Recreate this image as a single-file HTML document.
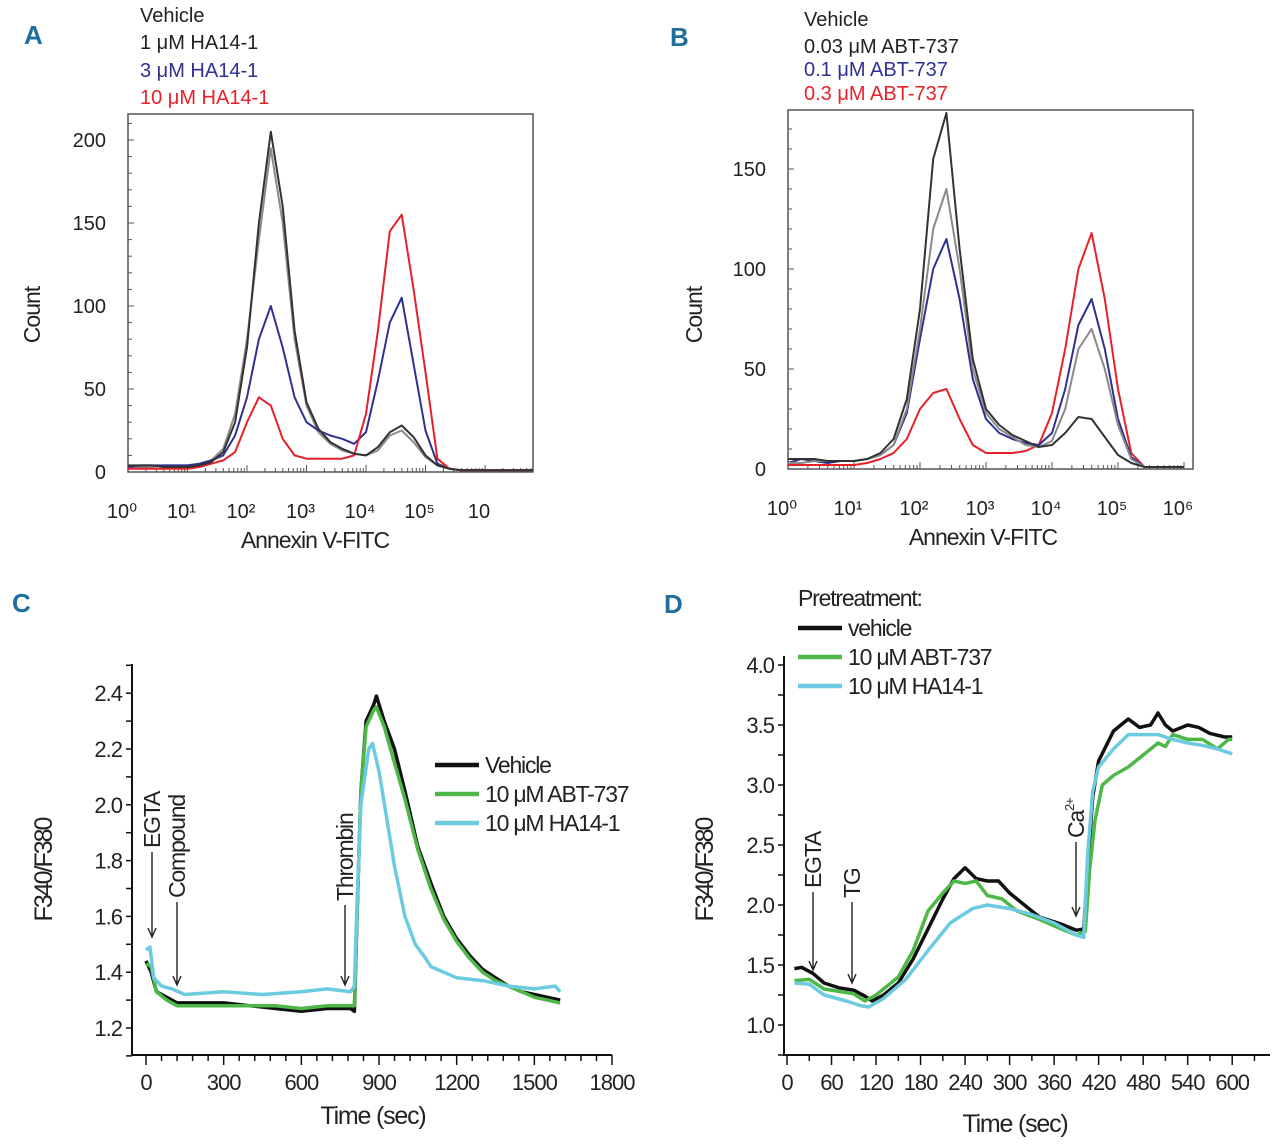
<!DOCTYPE html>
<html><head><meta charset="utf-8"><style>
body{margin:0;background:#fff;}
svg{display:block;font-family:"Liberation Sans Narrow","Liberation Sans",sans-serif;}
.cond{letter-spacing:-1px;}
</style></head><body>
<svg id="fig" width="1280" height="1146" viewBox="0 0 1280 1146" xmlns="http://www.w3.org/2000/svg">
<g font-family="Liberation Sans" font-weight="bold" fill="#1f6e9c" font-size="26">
<text x="24" y="44">A</text>
<text x="670" y="46">B</text>
<text x="12" y="612">C</text>
<text x="664" y="613">D</text>
</g>
<g font-size="20">
<text x="140" y="22" fill="#222">Vehicle</text>
<text x="140" y="49" fill="#222">1 μM HA14-1</text>
<text x="140" y="77" fill="#2e3192">3 μM HA14-1</text>
<text x="140" y="104" fill="#e8202a">10 μM HA14-1</text>
<text x="804" y="26" fill="#222">Vehicle</text>
<text x="804" y="53" fill="#222">0.03 μM ABT-737</text>
<text x="804" y="76" fill="#2e3192">0.1 μM ABT-737</text>
<text x="804" y="100" fill="#e8202a">0.3 μM ABT-737</text>
</g>
<g id="gA"></g>
<g id="gB"></g>
<g id="gC"></g>
<g id="gD"></g>
</svg>
<script>
// ---------- Panel A data (log10 bins, step 0.2) ----------
const aBins = [0,0.2,0.4,0.6,0.8,1.0,1.2,1.4,1.6,1.8,2.0,2.2,2.4,2.6,2.8,3.0,3.2,3.4,3.6,3.8,4.0,4.2,4.4,4.6,4.8,5.0,5.2,5.4,5.6,5.8,6.0,6.2,6.4,6.6,6.8];
const aVehicle = [4,4,4,3,3,3,4,6,12,30,75,150,205,160,85,42,26,18,14,11,10,15,24,28,21,10,4,2,1,1,1,1,1,1,1];
const a1uM    = [3,3,3,4,4,4,5,7,14,35,80,140,195,150,80,40,24,17,13,11,10,13,22,25,18,9,4,2,1,1,1,1,1,1,1];
const a3uM    = [3,4,4,4,4,4,5,7,10,22,45,80,100,75,45,30,25,22,20,17,24,55,90,105,65,25,5,2,1,1,1,1,1,1,1];
const a10uM   = [2,2,2,2,2,2,3,5,7,12,30,45,40,20,10,8,8,8,8,10,35,85,145,155,110,60,8,2,1,1,1,1,1,1,1];
const aYTicks = [0,50,100,150,200];
const aXLabels = ["10⁰","10¹","10²","10³","10⁴","10⁵","10"];
// ---------- Panel B data ----------
const bBins = [0,0.2,0.4,0.6,0.8,1.0,1.2,1.4,1.6,1.8,2.0,2.2,2.4,2.6,2.8,3.0,3.2,3.4,3.6,3.8,4.0,4.2,4.4,4.6,4.8,5.0,5.2,5.4,5.6,5.8,6.0];
const bVehicle = [5,5,5,4,4,4,5,8,15,35,80,155,178,110,55,30,22,17,14,11,12,18,26,25,16,7,3,1,1,1,1];
const b003uM   = [3,3,4,4,4,4,5,7,12,30,70,120,140,100,50,28,20,16,12,11,14,30,60,70,50,22,5,1,1,1,1];
const b01uM    = [3,5,4,3,4,4,5,7,12,28,65,100,115,85,45,25,18,15,13,12,18,40,72,85,60,25,6,1,1,1,1];
const b03uM    = [2,2,2,2,2,2,3,5,8,15,30,38,40,25,12,8,8,8,9,12,28,60,100,118,85,40,8,1,1,1,1];
const bYTicks = [0,50,100,150];
const bXLabels = ["10⁰","10¹","10²","10³","10⁴","10⁵","10⁶"];
// ---------- Panel C data ----------
const cVehT = [0,20,40,80,120,200,300,400,500,600,700,790,805,815,830,850,880,890,920,960,1000,1050,1100,1150,1200,1250,1300,1350,1400,1450,1500,1550,1600];
const cVehV = [1.44,1.40,1.33,1.31,1.29,1.29,1.29,1.28,1.27,1.26,1.27,1.27,1.26,1.6,2.05,2.3,2.36,2.39,2.3,2.2,2.05,1.85,1.72,1.6,1.52,1.46,1.41,1.38,1.35,1.33,1.32,1.31,1.30];
const cAbtT = [0,20,40,80,120,200,300,400,500,600,700,790,805,815,830,850,880,890,920,960,1000,1050,1100,1150,1200,1250,1300,1350,1400,1450,1500,1550,1600];
const cAbtV = [1.43,1.42,1.33,1.30,1.28,1.28,1.28,1.28,1.28,1.27,1.28,1.28,1.28,1.6,2.05,2.28,2.34,2.35,2.28,2.15,2.02,1.84,1.70,1.59,1.51,1.45,1.40,1.37,1.35,1.33,1.31,1.30,1.29];
const cHaT = [0,15,30,60,100,150,300,450,600,700,790,805,815,830,860,875,900,930,960,1000,1040,1080,1100,1150,1200,1300,1400,1500,1580,1600];
const cHaV = [1.48,1.49,1.38,1.35,1.34,1.32,1.33,1.32,1.33,1.34,1.33,1.35,1.65,2.0,2.2,2.22,2.12,1.95,1.78,1.6,1.5,1.45,1.42,1.40,1.38,1.37,1.35,1.34,1.35,1.33];
const cYTicks = [1.2,1.4,1.6,1.8,2.0,2.2,2.4];
const cXTicks = [0,300,600,900,1200,1500,1800];
// ---------- Panel D data ----------
const dVehT = [10,20,35,50,70,90,105,115,130,150,170,190,210,225,240,255,270,285,300,320,340,370,390,400,405,412,420,440,460,475,490,500,510,520,540,555,570,590,600];
const dVehV = [1.47,1.48,1.43,1.35,1.31,1.29,1.24,1.20,1.25,1.35,1.55,1.80,2.05,2.22,2.31,2.22,2.20,2.20,2.10,2.00,1.90,1.84,1.79,1.80,2.30,2.90,3.20,3.45,3.55,3.48,3.50,3.60,3.50,3.45,3.50,3.48,3.43,3.40,3.40];
const dAbtT = [10,30,50,90,105,120,150,170,190,210,225,240,255,270,290,310,340,370,390,402,408,415,425,440,460,480,500,510,520,540,560,580,595,600];
const dAbtV = [1.37,1.38,1.30,1.26,1.20,1.25,1.40,1.62,1.95,2.10,2.20,2.18,2.20,2.08,2.05,1.95,1.88,1.80,1.75,1.78,2.30,2.70,3.00,3.08,3.15,3.25,3.35,3.32,3.42,3.38,3.38,3.30,3.38,3.38];
const dHaT = [10,30,50,80,100,110,130,160,190,220,250,270,300,330,360,390,400,405,412,420,440,460,480,500,520,540,560,580,600];
const dHaV = [1.35,1.34,1.25,1.20,1.16,1.15,1.22,1.38,1.62,1.85,1.97,2.00,1.97,1.92,1.85,1.75,1.73,2.40,2.95,3.15,3.30,3.42,3.42,3.42,3.38,3.35,3.33,3.30,3.26];
const dYTicks = [1.0,1.5,2.0,2.5,3.0,3.5,4.0];
const dXTicks = [0,60,120,180,240,300,360,420,480,540,600];

const NS = "http://www.w3.org/2000/svg";
function mk(parent, tag, attrs, text){
  const e = document.createElementNS(NS, tag);
  for (const k in attrs) e.setAttribute(k, attrs[k]);
  if (text !== undefined) e.textContent = text;
  parent.appendChild(e);
  return e;
}
function pts(xs, ys, fx, fy){ return xs.map((x,i)=>fx(x).toFixed(1)+","+fy(ys[i]).toFixed(1)).join(" "); }

// ---------- Histogram panels ----------
function histPanel(g, cfg){
  const fx = u => cfg.x0 + u*cfg.dec;
  const fy = c => cfg.y0 - c*cfg.py;
  let r = mk(g,'rect',{x:cfg.x0,y:cfg.top,width:cfg.x1-cfg.x0,height:cfg.y0-cfg.top,fill:'none',stroke:'#555','stroke-width':1.5});
  
  
  for (let c=0; c*cfg.py <= cfg.y0-cfg.top; c+=10){
    const y=fy(c);
    const t = mk(g,'line',{x1:cfg.x0,x2:cfg.x0+(c%50===0?6:4),y1:y,y2:y,stroke:'#555','stroke-width':1});
    
    
  }
  cfg.yt.forEach(v=>{
    const t = mk(g,'text',{x:cfg.lx,y:fy(v)+7,'text-anchor':'end','font-size':20,fill:'#222'},String(v));
    
    
  });
  for (let d=0; d<cfg.ndec; d++){
    for (let m=1; m<=9; m++){
      const u = d + Math.log10(m);
      if (fx(u) > cfg.x1) break;
      const t = mk(g,'line',{x1:fx(u),x2:fx(u),y1:cfg.y0,y2:cfg.y0-(m===1?7:4),stroke:'#555','stroke-width':1});
      
      
    }
  }
  cfg.xl.forEach((s,i)=>{
    const t = mk(g,'text',{x:fx(i)-6,y:cfg.y0+46,'text-anchor':'middle','font-size':20,fill:'#222'},s);
    
    
  });
  let t1 = mk(g,'text',{x:cfg.cx,y:cfg.y0+76,'text-anchor':'middle','font-size':23,fill:'#222',class:'cond'},'Annexin V-FITC');
  
  
  let t2 = mk(g,'text',{x:0,y:0,transform:'translate('+cfg.cntx+',315) rotate(-90)','text-anchor':'middle','font-size':23,fill:'#222',class:'cond'},'Count');
  
  
  cfg.series.forEach(s=>{
    const vals = s.v.map(v=>Math.min(v,(cfg.y0-cfg.top)/cfg.py));
    const l = mk(g,'polyline',{points:pts(cfg.bins, vals, fx, fy),fill:'none',stroke:s.c,'stroke-width':2,'stroke-linejoin':'round'});
    
    
  });
}
histPanel(document.getElementById('gA'),{p:'panel-a',x0:128,x1:533,top:114,y0:472,dec:59.5,py:1.66,ndec:7,lx:106,cx:315,cntx:40,
  yt:aYTicks,xl:aXLabels,bins:aBins,series:[
   {v:a1uM,c:'#8a8a8a',n:'series-a-1um'},{v:a3uM,c:'#2e3192',n:'series-a-3um'},{v:a10uM,c:'#e8202a',n:'series-a-10um'},{v:aVehicle,c:'#333',n:'series-a-vehicle'}]});
histPanel(document.getElementById('gB'),{p:'panel-b',x0:788,x1:1193,top:110,y0:469,dec:66,py:2.0,ndec:7,lx:766,cx:983,cntx:702,
  yt:bYTicks,xl:bXLabels,bins:bBins,series:[
   {v:b03uM,c:'#e8202a',n:'series-b-03um'},{v:b01uM,c:'#2e3192',n:'series-b-01um'},{v:b003uM,c:'#8a8a8a',n:'series-b-003um'},{v:bVehicle,c:'#333',n:'series-b-vehicle'}]});

// ---------- Line panels ----------
function linePanel(g, cfg){
  const fx = t => cfg.xz + t*cfg.pxs;
  const fy = v => cfg.yz - (v-cfg.vref)*cfg.pyv;
  let a = mk(g,'polyline',{points:cfg.ax+','+cfg.top+' '+cfg.ax+','+cfg.ay+' '+cfg.axEnd+','+cfg.ay,fill:'none',stroke:'#111','stroke-width':2});
  
  
  for (let v=cfg.minorStart; fy(v)>=cfg.top-1; v+=cfg.yminor){
    const y=fy(v);
    const t = mk(g,'line',{x1:cfg.ax-6,x2:cfg.ax,y1:y,y2:y,stroke:'#111','stroke-width':1.5});
    
    
  }
  cfg.yt.forEach(v=>{
    const t = mk(g,'text',{x:cfg.ax-10,y:fy(v)+8,'text-anchor':'end','font-size':22,fill:'#222',class:'cond'},v.toFixed(1));
    
    
  });
  for (let t0=0; fx(t0)<=cfg.axEnd+1; t0+=cfg.xminor){
    const major = Math.abs((t0/cfg.xmajor)-Math.round(t0/cfg.xmajor))<1e-6;
    const t = mk(g,'line',{x1:fx(t0),x2:fx(t0),y1:cfg.ay,y2:cfg.ay+(major?10:6),stroke:'#111','stroke-width':1.5});
    
    
  }
  cfg.xt.forEach(v=>{
    const t = mk(g,'text',{x:fx(v),y:cfg.ay+35,'text-anchor':'middle','font-size':22,fill:'#222',class:'cond'},String(v));
    
    
  });
  let t1 = mk(g,'text',{x:cfg.tx,y:cfg.ty,'text-anchor':'middle','font-size':25,fill:'#222','letter-spacing':'-1.2'},'Time (sec)');
  
  
  let t2 = mk(g,'text',{x:0,y:0,transform:'translate('+cfg.fx+',870) rotate(-90)','text-anchor':'middle','font-size':25,fill:'#222','letter-spacing':'-2'},'F340/F380');
  
  
  cfg.series.forEach(s=>{
    const l = mk(g,'polyline',{points:pts(s.t, s.v, fx, fy),fill:'none',stroke:s.c,'stroke-width':3.5,'stroke-linejoin':'round'});
    
    
  });
  cfg.legend.forEach((s,i)=>{
    const y = cfg.ly + i*cfg.ldy;
    const l = mk(g,'line',{x1:cfg.lx,x2:cfg.lx+44,y1:y,y2:y,stroke:s.c,'stroke-width':4.5});
    
    
    const t = mk(g,'text',{x:cfg.lx+50,y:y+8,'font-size':23,fill:'#222','letter-spacing':'-1.2'},s.label);
    
    
  });
  cfg.arrows.forEach(a=>{
    const x=a.x;
    const l = mk(g,'path',{d:'M'+x+','+a.y1+' L'+x+','+a.y2+' M'+(x-4)+','+(a.y2-9)+' L'+x+','+a.y2+' L'+(x+4)+','+(a.y2-9),fill:'none',stroke:'#222','stroke-width':1.4});
    
    
    const t = mk(g,'text',{x:0,y:0,transform:'translate('+(x+8)+','+(a.y1-4)+') rotate(-90)','font-size':23,fill:'#222','letter-spacing':'-1.2'},a.label);
    
    
    if (a.sup){
      mk(t,'tspan',{'font-size':13,dy:-10},a.sup);
    }
  });
}
linePanel(document.getElementById('gC'),{p:'panel-c',xz:146,pxs:0.2589,yz:1028,vref:1.2,pyv:279,ax:132,ay:1055,top:664,axEnd:612,
  minorStart:1.1,yminor:0.1,xminor:60,xmajor:300,yt:cYTicks,xt:cXTicks,tx:373,ty:1124,fx:52,
  series:[{t:cVehT,v:cVehV,c:'#111',n:'series-c-vehicle'},{t:cAbtT,v:cAbtV,c:'#4db848',n:'series-c-abt737'},{t:cHaT,v:cHaV,c:'#6ccbe0',n:'series-c-ha141'}],
  legend:[{c:'#111',label:'Vehicle',n:'c-vehicle'},{c:'#4db848',label:'10 μM ABT-737',n:'c-abt737'},{c:'#6ccbe0',label:'10 μM HA14-1',n:'c-ha141'}],lx:435,ly:765,ldy:29,
  arrows:[{x:152,y1:852,y2:937,label:'EGTA',n:'c-egta'},{x:177,y1:902,y2:985,label:'Compound',n:'c-compound'},{x:345,y1:905,y2:985,label:'Thrombin',n:'c-thrombin'}]});
linePanel(document.getElementById('gD'),{p:'panel-d',xz:787,pxs:0.742,yz:1025,vref:1.0,pyv:120,ax:784,ay:1055,top:656,axEnd:1270,
  minorStart:0.75,yminor:0.25,xminor:30,xmajor:60,yt:dYTicks,xt:dXTicks,tx:1015,ty:1132,fx:713,
  series:[{t:dVehT,v:dVehV,c:'#111',n:'series-d-vehicle'},{t:dAbtT,v:dAbtV,c:'#4db848',n:'series-d-abt737'},{t:dHaT,v:dHaV,c:'#6ccbe0',n:'series-d-ha141'}],
  legend:[{c:'#111',label:'vehicle',n:'d-vehicle'},{c:'#4db848',label:'10 μM ABT-737',n:'d-abt737'},{c:'#6ccbe0',label:'10 μM HA14-1',n:'d-ha141'}],lx:798,ly:628,ldy:29,
  arrows:[{x:813,y1:892,y2:970,label:'EGTA',n:'d-egta'},{x:852,y1:902,y2:983,label:'TG',n:'d-tg'},{x:1076,y1:842,y2:916,label:'Ca',sup:'2+',n:'d-ca'}]});
const pre = mk(document.getElementById('gD'),'text',{x:798,y:606,'font-size':23,fill:'#222','letter-spacing':'-1.2'},'Pretreatment:');


</script>
</body></html>
